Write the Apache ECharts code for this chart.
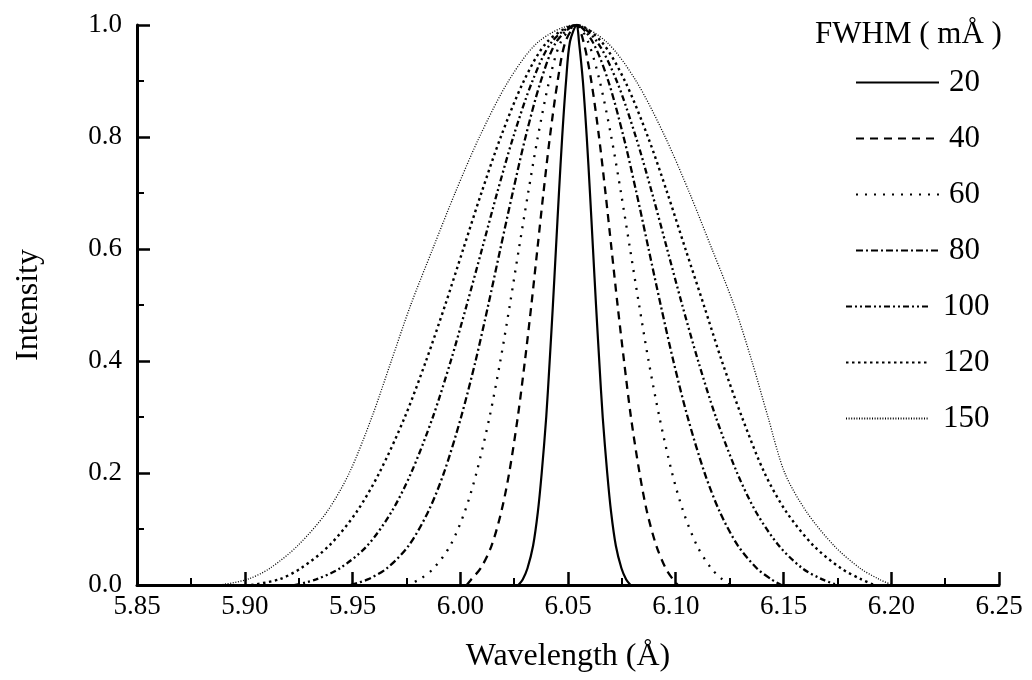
<!DOCTYPE html>
<html>
<head>
<meta charset="utf-8">
<title>Line profiles</title>
<script src="https://cdn.jsdelivr.net/npm/echarts@6/dist/echarts.min.js"></script>
<style>
  html, body { margin: 0; padding: 0; background: #fff; }
  #chart { width: 1032px; height: 680px; }
</style>
</head>
<body>
<div id="chart"></div>
<script>
// Intensity levels sampled on each flank (peak value 1 is added separately)
const intensityLevels = [0.97, 0.9, 0.8, 0.7, 0.6, 0.5, 0.4, 0.3, 0.2, 0.13, 0.07, 0.03, 0.01, 0];

// Legend labels (FWHM in mÅ)
const fwhmLabels = ['20', '40', '60', '80', '100', '120', '150'];

// Peak position (Å) of each profile
const peakWavelength = [6.054, 6.054, 6.054, 6.054, 6.054, 6.054, 6.053];

// Wavelengths (Å) where each profile reaches the levels above, blue and red flank
const fwhm20Left   = [6.0509, 6.0491, 6.0473, 6.0458, 6.0444, 6.0430, 6.0415, 6.0399, 6.0378, 6.0360, 6.0338, 6.0312, 6.0290, 6.0270];
const fwhm20Right  = [6.0551, 6.0569, 6.0587, 6.0602, 6.0616, 6.0630, 6.0645, 6.0661, 6.0682, 6.0700, 6.0722, 6.0748, 6.0770, 6.0790];
const fwhm40Left   = [6.0488, 6.0452, 6.0416, 6.0386, 6.0358, 6.0330, 6.0300, 6.0267, 6.0227, 6.0190, 6.0145, 6.0095, 6.0051, 6.0030];
const fwhm40Right  = [6.0572, 6.0608, 6.0644, 6.0674, 6.0702, 6.0730, 6.0760, 6.0792, 6.0832, 6.0867, 6.0910, 6.0953, 6.0987, 6.1010];
const fwhm60Left   = [6.0467, 6.0413, 6.0360, 6.0315, 6.0272, 6.0230, 6.0186, 6.0136, 6.0075, 6.0020, 5.9953, 5.9877, 5.9811, 5.9750];
const fwhm60Right  = [6.0593, 6.0647, 6.0701, 6.0746, 6.0788, 6.0830, 6.0874, 6.0924, 6.0983, 6.1036, 6.1099, 6.1164, 6.1216, 6.1250];
const fwhm80Left   = [6.0446, 6.0374, 6.0303, 6.0243, 6.0186, 6.0130, 6.0071, 6.0004, 5.9924, 5.9850, 5.9760, 5.9660, 5.9571, 5.9490];
const fwhm80Right  = [6.0614, 6.0687, 6.0758, 6.0818, 6.0874, 6.0930, 6.0989, 6.1055, 6.1134, 6.1205, 6.1289, 6.1376, 6.1444, 6.1490];
const fwhm100Left  = [6.0425, 6.0335, 6.0246, 6.0171, 6.0101, 6.0030, 5.9956, 5.9873, 5.9772, 5.9680, 5.9568, 5.9442, 5.9331, 5.9230];
const fwhm100Right = [6.0635, 6.0726, 6.0815, 6.0890, 6.0960, 6.1030, 6.1104, 6.1186, 6.1285, 6.1373, 6.1479, 6.1587, 6.1680, 6.1750];
const fwhm120Left  = [6.0404, 6.0295, 6.0188, 6.0098, 6.0014, 5.9930, 5.9841, 5.9743, 5.9624, 5.9518, 5.9391, 5.9261, 5.9159, 5.9030];
const fwhm120Right = [6.0656, 6.0764, 6.0871, 6.0961, 6.1045, 6.1130, 6.1214, 6.1307, 6.1412, 6.1514, 6.1640, 6.1766, 6.1862, 6.1922];
const fwhm150Left  = [6.0363, 6.0224, 6.0089, 5.9976, 5.9872, 5.9770, 5.9680, 5.9590, 5.9485, 5.9380, 5.9245, 5.9117, 5.9012, 5.8885];
const fwhm150Right = [6.0678, 6.0816, 6.0951, 6.1064, 6.1168, 6.1270, 6.1353, 6.1428, 6.1506, 6.1608, 6.1735, 6.1855, 6.1945, 6.2005];

const flanks = [
  [fwhm20Left, fwhm20Right],
  [fwhm40Left, fwhm40Right],
  [fwhm60Left, fwhm60Right],
  [fwhm80Left, fwhm80Right],
  [fwhm100Left, fwhm100Right],
  [fwhm120Left, fwhm120Right],
  [fwhm150Left, fwhm150Right]
];

// Line pattern per profile: solid, dashed, dotted, dash-dot, dash-dot-dot, short dots, fine dots
const lineDash = [
  'solid',
  [8, 6],
  [2, 7],
  [7, 3, 2, 3],
  [6, 3, 2, 3, 2, 3],
  [2.5, 3.5],
  [1, 1.6]
];
const lineWidth = [2.2, 2.3, 2.3, 2.3, 2.3, 2.4, 1.3];

const FONT = '"Liberation Serif", "Times New Roman", serif';

function profilePoints(i) {
  const [left, right] = flanks[i];
  const pts = [];
  for (let k = left.length - 1; k >= 0; k--) pts.push([left[k], intensityLevels[k]]);
  pts.push([peakWavelength[i], 1]);
  for (let k = 0; k < right.length; k++) pts.push([right[k], intensityLevels[k]]);
  return pts;
}

const series = fwhmLabels.map((name, i) => ({
  name: name,
  type: 'line',
  data: profilePoints(i),
  smooth: 0.3,
  symbol: 'none',
  showSymbol: false,
  silent: true,
  animation: false,
  color: '#000',
  lineStyle: { color: '#000', width: lineWidth[i], type: lineDash[i] },
  emphasis: { disabled: true }
}));

const legendText = { fontFamily: FONT, fontSize: 31, color: '#000' };
const legendCommon = {
  orient: 'vertical',
  itemWidth: 83, itemHeight: 14, itemGap: 25,
  selectedMode: false,
  itemStyle: { opacity: 0, borderWidth: 0 },
  lineStyle: { color: '#000', opacity: 1 }
};

const option = {
  backgroundColor: '#fff',
  animation: false,
  grid: { left: 137, right: 33, top: 25, bottom: 95, containLabel: false },
  title: {
    text: 'FWHM ( mÅ )',
    left: 810, top: 14,
    textStyle: { fontFamily: FONT, fontSize: 31, fontWeight: 'normal', color: '#000' }
  },
  legend: [
    Object.assign({
      data: fwhmLabels.slice(0, 4),
      left: 850, top: 62,
      textStyle: Object.assign({ padding: [0, 0, 0, 5] }, legendText)
    }, legendCommon),
    Object.assign({
      data: fwhmLabels.slice(4),
      left: 840, top: 62 + 4 * 56,
      textStyle: Object.assign({ padding: [0, 0, 0, 9] }, legendText)
    }, legendCommon)
  ],
  xAxis: {
    type: 'value',
    min: 5.85, max: 6.25, interval: 0.05,
    name: 'Wavelength (Å)',
    nameLocation: 'middle', nameGap: 56,
    nameTextStyle: { fontFamily: FONT, fontSize: 32, color: '#000' },
    axisLine: { show: true, onZero: false, lineStyle: { color: '#000', width: 3 } },
    axisTick: { show: true, inside: true, length: 13, lineStyle: { color: '#000', width: 2.5 } },
    minorTick: { show: true, splitNumber: 2, length: 7, lineStyle: { color: '#000', width: 2 } },
    splitLine: { show: false },
    axisLabel: {
      margin: 8, fontFamily: FONT, fontSize: 27, color: '#000',
      formatter: v => v.toFixed(2)
    }
  },
  yAxis: {
    type: 'value',
    min: 0, max: 1, interval: 0.2,
    name: 'Intensity',
    nameLocation: 'middle', nameGap: 92, nameRotate: 90,
    nameTextStyle: { fontFamily: FONT, fontSize: 32, color: '#000' },
    axisLine: { show: true, lineStyle: { color: '#000', width: 3 } },
    axisTick: { show: true, inside: true, length: 13, lineStyle: { color: '#000', width: 2.5 } },
    minorTick: { show: true, splitNumber: 2, length: 7, lineStyle: { color: '#000', width: 2 } },
    splitLine: { show: false },
    axisLabel: {
      margin: 15, fontFamily: FONT, fontSize: 27, color: '#000',
      formatter: v => v.toFixed(1)
    }
  },
  series: series
};

const chart = echarts.init(document.getElementById('chart'), null, { renderer: 'canvas' });
chart.setOption(option);
</script>
</body>
</html>
